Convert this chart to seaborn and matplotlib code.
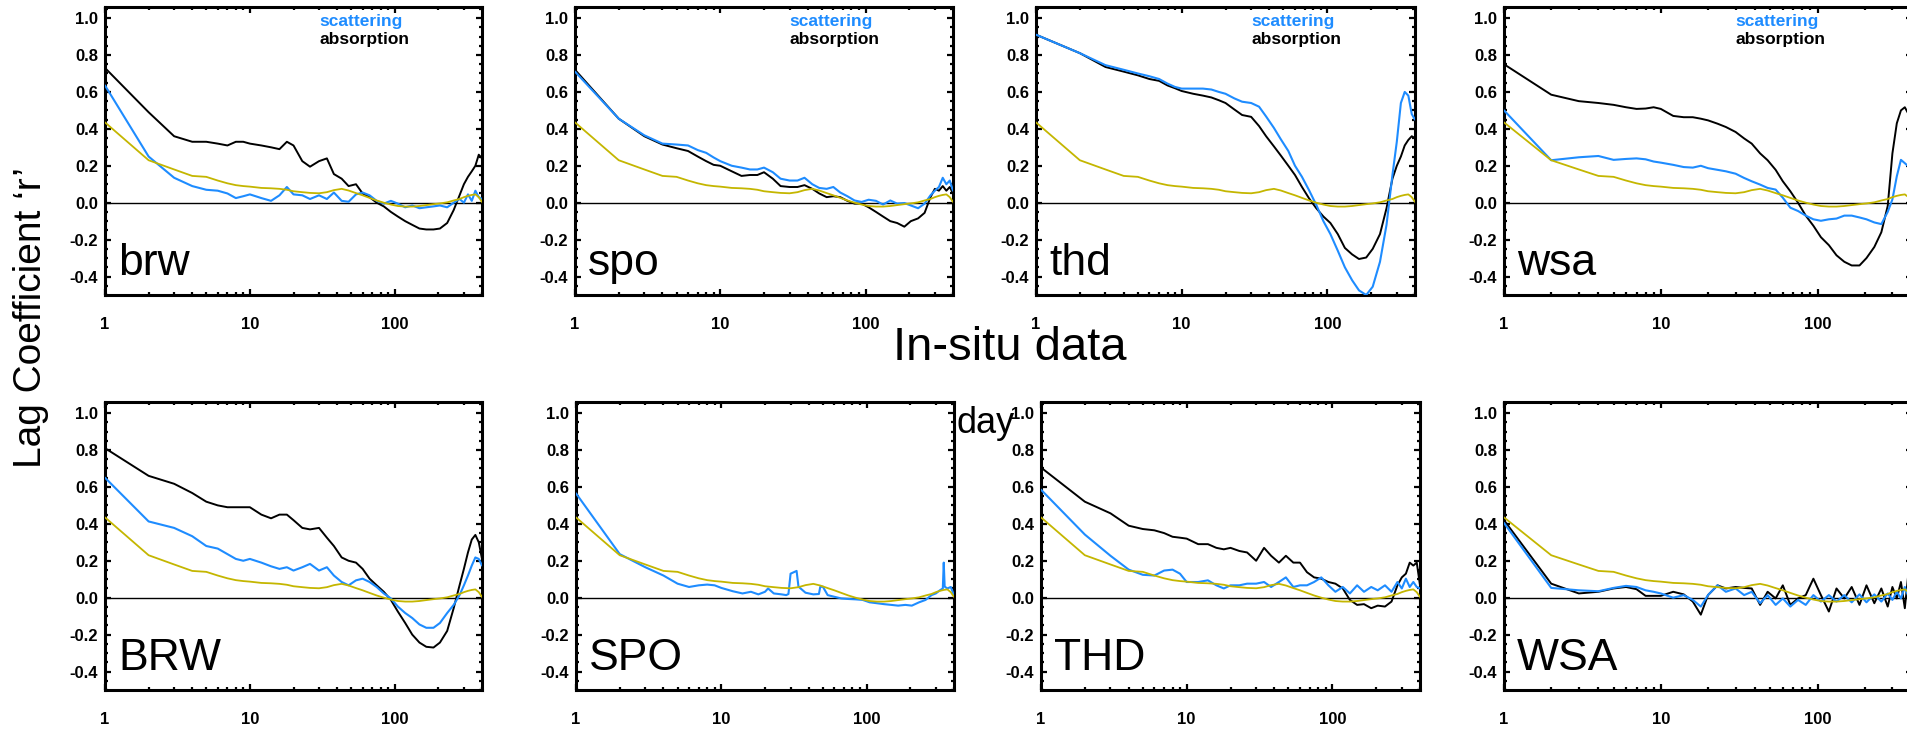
import matplotlib
matplotlib.use("Agg")
import matplotlib.pyplot as plt
import matplotlib.ticker as mticker
import matplotlib.transforms as mtrans
import seaborn as sns

# ---------------- data ----------------
LAGS = [1, 2, 3, 4, 5, 6, 7, 8, 9, 10,
        12, 14, 16, 18, 20, 23, 26, 30, 34, 38,
        43, 48, 54, 60, 67, 75, 84, 94, 105, 118,
        132, 148, 165, 185, 205, 230, 255, 280, 300, 320,
        340, 360, 380, 400]

REFERENCE = [0.435, 0.23, 0.18, 0.145, 0.14, 0.12, 0.105, 0.095, 0.09, 0.087,
             0.08, 0.078, 0.075, 0.07, 0.062, 0.057, 0.053, 0.051, 0.057, 0.068,
             0.075, 0.066, 0.052, 0.04, 0.026, 0.012, 0.0, -0.01, -0.018, -0.021,
             -0.021, -0.018, -0.013, -0.008, -0.004, 0.002, 0.012, 0.02, 0.03, 0.037,
             0.042, 0.045, 0.03, 0.004]

brw_abs = [0.73, 0.49, 0.36, 0.33, 0.33, 0.32, 0.31, 0.33, 0.33, 0.32,
           0.31, 0.30, 0.29, 0.33, 0.31, 0.225, 0.195, 0.225, 0.24, 0.155,
           0.13, 0.09, 0.10, 0.05, 0.03, 0.0, -0.02, -0.05, -0.075, -0.10,
           -0.12, -0.14, -0.145, -0.145, -0.14, -0.11, -0.04, 0.04, 0.10, 0.14,
           0.17, 0.20, 0.26, 0.24]
brw_sca = [0.635, 0.25, 0.135, 0.09, 0.07, 0.065, 0.05, 0.025, 0.035, 0.045,
           0.025, 0.01, 0.04, 0.085, 0.045, 0.04, 0.02, 0.04, 0.02, 0.055,
           0.01, 0.005, 0.045, 0.055, 0.04, 0.01, -0.005, 0.01, -0.005, -0.025,
           -0.015, -0.03, -0.025, -0.02, -0.015, -0.025, 0.0, 0.02, 0.0, 0.045,
           0.01, 0.065, 0.03, 0.02]

spo_abs = [0.72, 0.455, 0.36, 0.315, 0.295, 0.28, 0.25, 0.225, 0.205, 0.20,
           0.17, 0.145, 0.15, 0.15, 0.165, 0.13, 0.09, 0.085, 0.085, 0.095,
           0.075, 0.05, 0.03, 0.035, 0.03, 0.01, -0.005, -0.005, -0.025, -0.05,
           -0.075, -0.10, -0.11, -0.13, -0.10, -0.085, -0.055, 0.03, 0.075, 0.065,
           0.09, 0.065, 0.085, 0.05]
spo_sca = [0.71, 0.455, 0.365, 0.32, 0.315, 0.31, 0.285, 0.27, 0.245, 0.225,
           0.20, 0.19, 0.18, 0.18, 0.19, 0.165, 0.13, 0.12, 0.12, 0.135,
           0.10, 0.08, 0.075, 0.085, 0.055, 0.035, 0.012, 0.004, 0.016, 0.01,
           -0.01, 0.012, -0.005, -0.002, -0.015, -0.03, -0.005, 0.04, 0.065, 0.085,
           0.135, 0.10, 0.12, 0.065]

thd_abs = [0.91, 0.81, 0.735, 0.71, 0.69, 0.67, 0.66, 0.635, 0.62, 0.605,
           0.59, 0.58, 0.57, 0.555, 0.54, 0.505, 0.475, 0.465, 0.415, 0.36,
           0.305, 0.255, 0.20, 0.15, 0.085, 0.023, -0.03, -0.075, -0.11, -0.17,
           -0.245, -0.28, -0.305, -0.297, -0.25, -0.17, -0.03, 0.13, 0.20, 0.25,
           0.31, 0.34, 0.36, 0.35]
thd_sca = [0.91, 0.81, 0.745, 0.72, 0.70, 0.685, 0.67, 0.645, 0.627, 0.618,
           0.618, 0.618, 0.613, 0.60, 0.59, 0.565, 0.547, 0.54, 0.52, 0.467,
           0.405, 0.343, 0.28, 0.20, 0.14, 0.067, -0.012, -0.10, -0.17, -0.26,
           -0.35, -0.42, -0.475, -0.50, -0.455, -0.32, -0.12, 0.15, 0.33, 0.54,
           0.60, 0.58, 0.48, 0.45]

wsa_abs = [0.75, 0.585, 0.55, 0.54, 0.53, 0.517, 0.508, 0.51, 0.517, 0.508,
           0.47, 0.463, 0.463, 0.455, 0.446, 0.428, 0.41, 0.383, 0.348, 0.32,
           0.267, 0.23, 0.178, 0.116, 0.062, 0.0, -0.07, -0.125, -0.187, -0.23,
           -0.285, -0.32, -0.34, -0.34, -0.30, -0.24, -0.16, -0.018, 0.267, 0.43,
           0.50, 0.517, 0.48, 0.46]
wsa_sca = [0.50, 0.23, 0.246, 0.253, 0.232, 0.237, 0.24, 0.235, 0.223, 0.217,
           0.205, 0.193, 0.19, 0.20, 0.187, 0.178, 0.17, 0.157, 0.134, 0.116,
           0.098, 0.08, 0.071, 0.027, -0.027, -0.045, -0.07, -0.09, -0.098, -0.09,
           -0.086, -0.07, -0.07, -0.08, -0.09, -0.107, -0.116, -0.05, 0.018, 0.143,
           0.232, 0.214, 0.196, 0.178]

BRW_abs = [0.81, 0.66, 0.617, 0.567, 0.52, 0.50, 0.49, 0.49, 0.49, 0.49,
           0.45, 0.43, 0.45, 0.45, 0.42, 0.378, 0.37, 0.378, 0.325, 0.28,
           0.218, 0.20, 0.19, 0.156, 0.103, 0.067, 0.032, -0.012, -0.075, -0.137,
           -0.20, -0.243, -0.266, -0.27, -0.243, -0.18, -0.057, 0.067, 0.156, 0.245,
           0.315, 0.34, 0.30, 0.21]
BRW_sca = [0.65, 0.413, 0.378, 0.333, 0.28, 0.266, 0.236, 0.21, 0.20, 0.21,
           0.19, 0.17, 0.156, 0.165, 0.147, 0.165, 0.183, 0.147, 0.165, 0.12,
           0.085, 0.067, 0.094, 0.103, 0.085, 0.058, 0.023, -0.004, -0.048, -0.083,
           -0.11, -0.145, -0.163, -0.163, -0.137, -0.083, -0.039, 0.014, 0.067, 0.12,
           0.174, 0.218, 0.21, 0.174]

SPO_LAGS = [1, 2, 3, 4, 5, 6, 7, 8, 9, 10,
            12, 14, 16, 18, 20, 21, 23, 26, 28, 29,
            30, 33, 34, 38, 43, 47, 48, 50, 54, 60,
            67, 75, 84, 94, 105, 118, 132, 148, 165, 185,
            205, 230, 255, 280, 300, 320, 335, 340, 345, 360,
            380, 400]
SPO_sca = [0.565, 0.236, 0.165, 0.12, 0.076, 0.058, 0.067, 0.071, 0.067, 0.053,
           0.035, 0.023, 0.032, 0.018, 0.032, 0.05, 0.023, 0.018, 0.014, 0.02,
           0.13, 0.145, 0.06, 0.027, 0.018, 0.02, 0.058, 0.06, 0.014, 0.005,
           -0.004, -0.007, -0.009, -0.012, -0.025, -0.03, -0.035, -0.039, -0.043, -0.039,
           -0.043, -0.025, -0.012, 0.014, 0.023, 0.04, 0.05, 0.19, 0.06, 0.05,
           0.058, 0.014]

THD_abs = [0.705, 0.52, 0.457, 0.39, 0.372, 0.365, 0.35, 0.33, 0.325, 0.32,
           0.29, 0.29, 0.27, 0.262, 0.27, 0.253, 0.245, 0.20, 0.27, 0.227,
           0.19, 0.227, 0.19, 0.19, 0.138, 0.11, 0.103, 0.085, 0.076, 0.05,
           -0.012, -0.039, -0.035, -0.057, -0.043, -0.048, -0.021, 0.067, 0.11, 0.13,
           0.19, 0.174, 0.19, 0.067]
THD_sca = [0.585, 0.342, 0.227, 0.152, 0.124, 0.12, 0.147, 0.152, 0.13, 0.085,
           0.085, 0.094, 0.067, 0.05, 0.067, 0.067, 0.076, 0.076, 0.085, 0.058,
           0.085, 0.11, 0.058, 0.067, 0.067, 0.085, 0.11, 0.067, 0.032, 0.058,
           0.023, 0.067, 0.032, 0.058, 0.04, 0.067, 0.032, 0.085, 0.05, 0.103,
           0.058, 0.085, 0.058, 0.05]

WSA_abs = [0.42, 0.076, 0.023, 0.032, 0.05, 0.058, 0.046, 0.01, 0.01, 0.01,
           0.032, 0.018, -0.021, -0.092, 0.014, 0.067, 0.05, 0.058, 0.053, 0.05,
           -0.039, 0.032, -0.004, 0.067, -0.039, -0.004, 0.014, 0.103, 0.014, -0.075,
           0.05, -0.004, 0.058, -0.039, 0.067, -0.03, 0.05, -0.048, 0.058, -0.004,
           0.085, -0.057, 0.138, 0.014]
WSA_sca = [0.405, 0.053, 0.04, 0.035, 0.053, 0.064, 0.058, 0.04, 0.032, 0.023,
           0.0, 0.014, -0.012, -0.048, 0.014, 0.067, 0.032, 0.05, 0.014, 0.032,
           -0.03, 0.014, -0.039, -0.004, -0.048, -0.012, -0.039, 0.014, -0.021, 0.014,
           -0.021, 0.014, -0.025, 0.018, -0.025, 0.018, -0.021, 0.023, -0.012, 0.032,
           -0.004, 0.058, 0.005, 0.032]

STATIONS_TOP = ["brw", "spo", "thd", "wsa"]
STATIONS_BOTTOM = ["BRW", "SPO", "THD", "WSA"]
Y_TICKS = [-0.4, -0.2, 0.0, 0.2, 0.4, 0.6, 0.8, 1.0]
Y_TICKLABELS = ["-0.4", "-0.2", "0.0", "0.2", "0.4", "0.6", "0.8", "1.0"]
X_TICKS = [1, 10, 100]
X_TICKLABELS = ["1", "10", "100"]

# panel -> (abs lags, abs values, sca lags, sca values)
PANELS = {
    "brw": (LAGS, brw_abs, LAGS, brw_sca),
    "spo": (LAGS, spo_abs, LAGS, spo_sca),
    "thd": (LAGS, thd_abs, LAGS, thd_sca),
    "wsa": (LAGS, wsa_abs, LAGS, wsa_sca),
    "BRW": (LAGS, BRW_abs, LAGS, BRW_sca),
    "SPO": (None, None, SPO_LAGS, SPO_sca),
    "THD": (LAGS, THD_abs, LAGS, THD_sca),
    "WSA": (LAGS, WSA_abs, LAGS, WSA_sca),
}

# ---------------- style ----------------
sns.set_style("ticks")
plt.rcParams["font.family"] = ["Liberation Sans", "DejaVu Sans"]
for key in ["text.color", "axes.labelcolor", "xtick.color", "ytick.color",
            "axes.edgecolor"]:
    plt.rcParams[key] = "black"

BLUE = "#1e8cff"
YELLOW = "#c4b600"
BLACK = "#000000"

W, H = 1907, 729
fig = plt.figure(figsize=(W / 100, H / 100), dpi=100)

col_left = [105, 575, 1036, 1504]
col_width = [377, 378, 379, 408]
bottom_col_left = [105, 576, 1041, 1504]
row_top = [7, 402]
row_h = 288


def make_ax(left, top, width):
    return fig.add_axes([left / W, 1 - (top + row_h) / H, width / W, row_h / H])


for r, names in enumerate([STATIONS_TOP, STATIONS_BOTTOM]):
    for c, name in enumerate(names):
        left = col_left[c] if r == 0 else bottom_col_left[c]
        ax = make_ax(left, row_top[r], col_width[c])
        ax.set_xscale("log")
        ax.axhline(0, color="black", lw=1.0, zorder=1)
        alag, aval, slag, sval = PANELS[name]
        if alag is not None:
            sns.lineplot(x=alag, y=aval, ax=ax, color=BLACK, linewidth=1.4,
                         estimator=None, sort=False, zorder=2)
        sns.lineplot(x=slag, y=sval, ax=ax, color=BLUE, linewidth=1.5,
                     estimator=None, sort=False, zorder=3)
        sns.lineplot(x=LAGS, y=REFERENCE, ax=ax, color=YELLOW, linewidth=1.3,
                     estimator=None, sort=False, zorder=4)
        ax.set_xlim(1, 400)
        ax.set_ylim(-0.5, 1.06)
        ax.set_xticks(X_TICKS)
        ax.set_xticklabels(X_TICKLABELS)
        ax.xaxis.set_minor_locator(mticker.LogLocator(base=10, subs=range(2, 10)))
        ax.xaxis.set_minor_formatter(mticker.NullFormatter())
        ax.set_yticks(Y_TICKS)
        ax.set_yticklabels(Y_TICKLABELS)
        ax.yaxis.set_minor_locator(mticker.MultipleLocator(0.05))
        ax.tick_params(which="both", direction="in", top=True, right=True,
                       width=1.6, color="black", labelcolor="black")
        ax.tick_params(which="major", length=4.5)
        ax.tick_params(which="minor", length=2.2)
        ax.tick_params(axis="y", which="major", pad=5, labelsize=12)
        ax.tick_params(axis="x", which="major", pad=16, labelsize=12)
        for lab in ax.get_xticklabels() + ax.get_yticklabels():
            lab.set_fontweight("bold")
        for sp in ax.spines.values():
            sp.set_visible(True)
            sp.set_linewidth(2.2)
            sp.set_color("black")
        ax.set_xlabel("")
        ax.set_ylabel("")
        ax.text(0.035 * 377 / col_width[c], -0.39, name, fontsize=32, color="black",
                transform=mtrans.blended_transform_factory(ax.transAxes, ax.transData),
                ha="left", va="baseline", zorder=5)
        if r == 0:
            ax.text(30, 0.955, "scattering", color=BLUE, fontsize=12.5,
                    fontweight="bold", ha="left", va="baseline")
            ax.text(30, 0.86, "absorption", color=BLACK, fontsize=12.5,
                    fontweight="bold", ha="left", va="baseline")

fig.text(31 / W, 1 - 318 / H, "Lag Coefficient \u2018r\u2019", rotation=90,
         fontsize=28, ha="center", va="center", color="black")
fig.text(1010 / W, 1 - 360 / H, "In-situ data", fontsize=34,
         ha="center", va="baseline", color="black")
fig.text(986 / W, 1 - 433 / H, "day", fontsize=26, ha="center", va="baseline",
         color="black")

fig.savefig("out.png", dpi=100)
